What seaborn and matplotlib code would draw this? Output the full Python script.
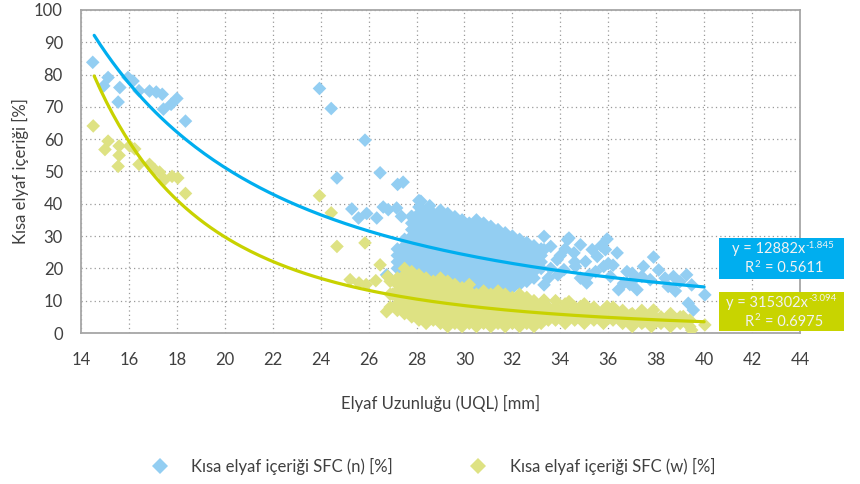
import numpy as np
import pandas as pd
import matplotlib
matplotlib.use("Agg")
import matplotlib.pyplot as plt
from matplotlib.patches import Rectangle
from matplotlib.lines import Line2D
import seaborn as sns

# ---------------- data ----------------
label_n = "Kısa elyaf içeriği SFC (n) [%]"
label_w = "Kısa elyaf içeriği SFC (w) [%]"

# SFC (n) – sparse points
n_sparse_x = [14.49, 15.13, 14.95, 15.62, 15.55, 15.96, 16.17, 16.42, 16.86, 17.14, 17.39, 17.44, 17.76, 18.0, 18.36,
              23.95, 24.44, 25.85, 24.68, 26.48, 27.21, 27.44, 25.3, 25.58, 25.92, 26.34, 26.61, 26.82, 27.17, 27.37,
              27.79, 28.18, 28.55, 26.75, 27.79,
              33.32, 33.6, 34.36, 34.57, 34.84, 35.05, 35.33, 35.54, 35.95, 35.88, 36.37, 35.81, 36.09, 36.78, 36.43,
              37.2, 37.47, 37.89, 37.06, 37.75, 38.37, 38.72, 39.27, 38.5, 38.99, 39.34, 39.55, 40.03, 33.32, 33.87,
              33.32, 34.63, 34.84, 34.15, 35.47, 36.64, 39.48, 34.3, 33.9, 35.1, 36.0, 37.0,
              33.6, 34.0, 34.6, 35.2, 35.7, 36.2, 36.9, 37.4, 38.1, 38.8, 33.5, 34.2]
n_sparse_y = [83.8, 79.1, 76.5, 76.0, 71.5, 79.1, 78.0, 75.0, 74.9, 74.6, 73.9, 69.3, 70.8, 72.6, 65.6,
              75.7, 69.5, 59.7, 48.0, 49.6, 46.0, 46.7, 38.4, 35.6, 37.0, 35.6, 39.0, 38.2, 38.7, 36.1,
              36.1, 40.8, 39.4, 18.0, 18.0,
              29.9, 26.8, 29.4, 24.8, 27.3, 22.1, 25.8, 23.7, 29.1, 25.8, 24.8, 20.6, 17.5, 19.0, 13.4,
              13.4, 20.6, 23.5, 16.5, 16.5, 17.0, 17.5, 18.0, 14.4, 15.9, 9.2, 7.1, 11.8, 25.8, 22.7,
              14.9, 20.6, 17.0, 19.6, 19.0, 15.4, 14.9, 28.9, 18.0, 15.5, 21.5, 18.5,
              20.0, 24.0, 22.0, 18.0, 27.0, 21.0, 15.0, 17.5, 19.5, 13.0, 17.0, 26.0]

# SFC (n) – dense cluster (read column by column)
n_dense_x = [27.2, 27.2, 27.2, 27.2,
             27.5, 27.5, 27.5, 27.5, 27.5, 27.5,
             27.8, 27.8, 27.8, 27.8, 27.8, 27.8, 27.8, 27.8, 27.8, 27.8,
             28.1, 28.1, 28.1, 28.1, 28.1, 28.1, 28.1, 28.1, 28.1, 28.1, 28.1, 28.1, 28.1,
             28.4, 28.4, 28.4, 28.4, 28.4, 28.4, 28.4, 28.4, 28.4, 28.4, 28.4, 28.4,
             28.7, 28.7, 28.7, 28.7, 28.7, 28.7, 28.7, 28.7, 28.7, 28.7, 28.7,
             29.0, 29.0, 29.0, 29.0, 29.0, 29.0, 29.0, 29.0, 29.0, 29.0, 29.0, 29.0,
             29.3, 29.3, 29.3, 29.3, 29.3, 29.3, 29.3, 29.3, 29.3, 29.3, 29.3, 29.3,
             29.6, 29.6, 29.6, 29.6, 29.6, 29.6, 29.6, 29.6, 29.6, 29.6, 29.6, 29.6,
             29.9, 29.9, 29.9, 29.9, 29.9, 29.9, 29.9, 29.9, 29.9, 29.9, 29.9,
             30.2, 30.2, 30.2, 30.2, 30.2, 30.2, 30.2, 30.2, 30.2, 30.2, 30.2,
             30.5, 30.5, 30.5, 30.5, 30.5, 30.5, 30.5, 30.5, 30.5, 30.5, 30.5, 30.5,
             30.8, 30.8, 30.8, 30.8, 30.8, 30.8, 30.8, 30.8, 30.8, 30.8, 30.8,
             31.1, 31.1, 31.1, 31.1, 31.1, 31.1, 31.1, 31.1, 31.1, 31.1, 31.1,
             31.4, 31.4, 31.4, 31.4, 31.4, 31.4, 31.4, 31.4, 31.4, 31.4, 31.4,
             31.7, 31.7, 31.7, 31.7, 31.7, 31.7, 31.7, 31.7, 31.7, 31.7,
             32.0, 32.0, 32.0, 32.0, 32.0, 32.0, 32.0, 32.0, 32.0,
             32.3, 32.3, 32.3, 32.3, 32.3, 32.3, 32.3, 32.3,
             32.6, 32.6, 32.6, 32.6, 32.6, 32.6, 32.6,
             32.9, 32.9, 32.9, 32.9, 32.9, 32.9,
             33.2, 33.2, 33.2, 33.2]
n_dense_y = [20, 22, 24, 26,
             19, 21, 23, 25, 27, 29,
             18, 20, 22, 24, 26, 28, 30, 32, 34, 36,
             17, 19, 21, 23, 25, 27, 29, 31, 33, 35, 37, 39, 41,
             16, 18, 20, 22, 24, 26, 28, 30, 32, 34, 36, 38,
             17, 19, 21, 23, 25, 27, 29, 31, 33, 35, 37,
             16, 18, 20, 22, 24, 26, 28, 30, 32, 34, 36, 38,
             15, 17, 19, 21, 23, 25, 27, 29, 31, 33, 35, 37,
             14, 16, 18, 20, 22, 24, 26, 28, 30, 32, 34, 36,
             15, 17, 19, 21, 23, 25, 27, 29, 31, 33, 35,
             14, 16, 18, 20, 22, 24, 26, 28, 30, 32, 34,
             13, 15, 17, 19, 21, 23, 25, 27, 29, 31, 33, 35,
             14, 16, 18, 20, 22, 24, 26, 28, 30, 32, 34,
             13, 15, 17, 19, 21, 23, 25, 27, 29, 31, 33,
             12, 14, 16, 18, 20, 22, 24, 26, 28, 30, 32,
             13, 15, 17, 19, 21, 23, 25, 27, 29, 31,
             14, 16, 18, 20, 22, 24, 26, 28, 30,
             15, 17, 19, 21, 23, 25, 27, 29,
             16, 18, 20, 22, 24, 26, 28,
             17, 19, 21, 23, 25, 27,
             20, 22, 24, 26]

# SFC (w) – sparse points
w_sparse_x = [14.51, 15.13, 15.0, 15.59, 15.59, 15.55, 16.03, 16.24, 16.42, 16.86, 17.07, 17.28, 17.49, 17.8, 18.04, 18.36,
              23.95, 24.44, 24.68, 25.85, 25.23, 25.6, 25.9, 26.3, 26.48, 26.75, 26.8, 27.0,
              33.32, 33.87, 34.36, 34.84, 35.12, 35.95, 36.37, 36.92, 37.89, 37.47, 38.3, 38.72, 39.13, 39.48, 40.03,
              34.43, 35.54, 36.64, 38.58, 33.46]
w_sparse_y = [64.1, 59.4, 56.8, 57.9, 55.0, 51.6, 57.9, 57.0, 52.2, 52.2, 50.6, 49.8, 47.5, 48.5, 48.0, 43.2,
              42.5, 37.2, 26.8, 27.9, 16.5, 15.5, 15.0, 16.2, 21.1, 6.6, 17.5, 12.0,
              10.2, 7.1, 9.7, 8.2, 6.1, 8.2, 6.6, 5.6, 7.1, 3.5, 4.0, 4.6, 5.1, 0.9, 2.5,
              5.1, 5.1, 4.0, 2.5, 6.1]

# SFC (w) – dense band (read column by column)
w_dense_x = [26.9, 26.9, 26.9,
             27.2, 27.2, 27.2, 27.2, 27.2, 27.2,
             27.5, 27.5, 27.5, 27.5, 27.5, 27.5, 27.5, 27.5,
             27.8, 27.8, 27.8, 27.8, 27.8, 27.8, 27.8, 27.8,
             28.1, 28.1, 28.1, 28.1, 28.1, 28.1, 28.1, 28.1,
             28.4, 28.4, 28.4, 28.4, 28.4, 28.4, 28.4, 28.4,
             28.7, 28.7, 28.7, 28.7, 28.7, 28.7, 28.7,
             29.0, 29.0, 29.0, 29.0, 29.0, 29.0, 29.0, 29.0,
             29.3, 29.3, 29.3, 29.3, 29.3, 29.3, 29.3, 29.3,
             29.6, 29.6, 29.6, 29.6, 29.6, 29.6, 29.6,
             29.9, 29.9, 29.9, 29.9, 29.9, 29.9, 29.9,
             30.2, 30.2, 30.2, 30.2, 30.2, 30.2, 30.2,
             30.5, 30.5, 30.5, 30.5, 30.5, 30.5,
             30.8, 30.8, 30.8, 30.8, 30.8, 30.8,
             31.1, 31.1, 31.1, 31.1, 31.1, 31.1,
             31.4, 31.4, 31.4, 31.4, 31.4, 31.4,
             31.7, 31.7, 31.7, 31.7, 31.7, 31.7,
             32.0, 32.0, 32.0, 32.0, 32.0,
             32.3, 32.3, 32.3, 32.3, 32.3, 32.3,
             32.6, 32.6, 32.6, 32.6, 32.6,
             32.9, 32.9, 32.9, 32.9, 32.9,
             33.2, 33.2, 33.2, 33.2,
             33.5, 33.5, 33.5,
             33.8, 33.8, 33.8, 33.8,
             34.2, 34.2, 34.2, 34.2,
             34.6, 34.6, 34.6,
             35.0, 35.0, 35.0, 35.0,
             35.4, 35.4, 35.4,
             35.8, 35.8, 35.8,
             36.2, 36.2, 36.2,
             36.6, 36.6, 36.6,
             37.0, 37.0, 37.0,
             37.4, 37.4, 37.4,
             37.8, 37.8, 37.8,
             38.2, 38.2,
             38.6, 38.6, 38.6,
             39.0, 39.0,
             39.4, 39.4]
w_dense_y = [8, 12, 16,
             7, 9, 11, 13, 15, 17,
             6, 8, 10, 12, 14, 16, 18, 20,
             5, 7, 9, 11, 13, 15, 17, 19,
             4, 6, 8, 10, 12, 14, 16, 18,
             3, 5, 7, 9, 11, 13, 15, 17,
             4, 6, 8, 10, 12, 14, 16,
             3, 5, 7, 9, 11, 13, 15, 17,
             2, 4, 6, 8, 10, 12, 14, 16,
             3, 5, 7, 9, 11, 13, 15,
             2, 4, 6, 8, 10, 12, 14,
             3, 5, 7, 9, 11, 13, 15,
             2, 4, 6, 8, 10, 12,
             3, 5, 7, 9, 11, 13,
             2, 4, 6, 8, 10, 12,
             3, 5, 7, 9, 11, 13,
             2, 4, 6, 8, 10, 12,
             3, 5, 7, 9, 11,
             2, 4, 6, 8, 10, 12,
             3, 5, 7, 9, 11,
             2, 4, 6, 8, 10,
             3, 5, 7, 9,
             4, 6, 8,
             4, 6, 8, 10,
             3, 5, 7, 9,
             4, 6, 8,
             3, 5, 7, 9,
             4, 6, 8,
             3, 5, 7,
             4, 6, 8,
             3, 5, 7,
             2, 4, 6,
             3, 5, 7,
             2, 4, 6,
             3, 5,
             2, 4, 6,
             3, 5,
             2, 4]

# power-law trend lines as printed on the chart
fit_n_a, fit_n_b, fit_n_r2 = 12882, -1.845, 0.5611
fit_w_a, fit_w_b, fit_w_r2 = 315302, -3.094, 0.6975
fit_x_min, fit_x_max = 14.55, 40.0

x_ticks = list(range(14, 45, 2))
y_ticks = list(range(0, 101, 10))
x_title = "Elyaf Uzunluğu (UQL) [mm]"
y_title = "Kısa elyaf içeriği [%]"

# ---------------- style ----------------
sns.set_theme(style="white")
plt.rcParams["font.family"] = ["Lato", "DejaVu Sans"]

c_n_mark, c_w_mark = "#93CEF2", "#DEE283"
c_n_line, c_w_line = "#00AEEF", "#C8D200"
c_text = "#404040"
c_frame = "#A6A6A6"
c_box_text = "#F2F2F2"

df = pd.concat([
    pd.DataFrame({"x": n_sparse_x + n_dense_x, "y": n_sparse_y + n_dense_y, "s": label_n}),
    pd.DataFrame({"x": w_sparse_x + w_dense_x, "y": w_sparse_y + w_dense_y, "s": label_w}),
])

fig = plt.figure(figsize=(8.6, 4.84), dpi=100)
ax = fig.add_axes([81 / 860, 1 - 333 / 484, (800 - 81) / 860, (333 - 10) / 484])

sns.scatterplot(data=df, x="x", y="y", hue="s", palette={label_n: c_n_mark, label_w: c_w_mark},
                marker="D", s=48, linewidth=0, alpha=1, ax=ax, legend=False, zorder=3)

xf = np.linspace(fit_x_min, fit_x_max, 200)
sns.lineplot(x=xf, y=fit_n_a * xf ** fit_n_b, color=c_n_line, lw=2.3, ax=ax, zorder=4)
sns.lineplot(x=xf, y=fit_w_a * xf ** fit_w_b, color=c_w_line, lw=2.3, ax=ax, zorder=4)

ax.set_xlim(14, 44)
ax.set_ylim(0, 100)
ax.set_xticks(x_ticks)
ax.set_yticks(y_ticks)
ax.grid(True, color="#9A9A9A", linestyle=(0, (1, 2.5)), linewidth=0.9, zorder=0)
ax.set_axisbelow(True)
for sp in ax.spines.values():
    sp.set_color(c_frame)
    sp.set_linewidth(1.3)
ax.tick_params(axis="both", direction="out", length=4, width=1, color=c_frame,
               labelsize=12, labelcolor=c_text)
ax.tick_params(axis="y", pad=9)
ax.tick_params(axis="x", pad=10)
ax.set_xlabel(x_title, fontsize=12, color=c_text, labelpad=19)
ax.set_ylabel(y_title, fontsize=12, color=c_text, labelpad=4)

FT = fig.transFigure

# equation boxes (drawn inside the axes' artist list so z-order works)
def eq_box(y_top, y_bot, color, a, b, r2, main_right, r_left):
    ax.add_patch(Rectangle((719 / 860, 1 - y_bot / 484), 125 / 860, (y_bot - y_top) / 484,
                           transform=FT, facecolor=color, edgecolor="none", zorder=10, clip_on=False))
    yc = (y_top + y_bot) / 2
    t1 = ax.text(main_right / 860, 1 - (yc - 9) / 484, f"y = {a}x", transform=FT, ha="right", va="center",
                 color=c_box_text, fontsize=10.5, zorder=11, clip_on=False)
    ax.annotate(b, xy=(1.0, 1.0), xycoords=t1, xytext=(0.5, 1), textcoords="offset points",
                ha="left", va="top", color=c_box_text, fontsize=7, zorder=11, annotation_clip=False)
    t2 = ax.text(r_left / 860, 1 - (yc + 10) / 484, "R", transform=FT, ha="left", va="center",
                 color=c_box_text, fontsize=10.5, zorder=11, clip_on=False)
    ax.annotate("2", xy=(1.0, 1.0), xycoords=t2, xytext=(0.5, 1), textcoords="offset points",
                ha="left", va="top", color=c_box_text, fontsize=7, zorder=11, annotation_clip=False)
    ax.annotate(f"= {r2:.4f}", xy=(1.0, 0.5), xycoords=t2, xytext=(7.5, 0), textcoords="offset points",
                ha="left", va="center", color=c_box_text, fontsize=10.5, zorder=11, annotation_clip=False)

eq_box(238, 279, "#00AEEF", fit_n_a, f"{fit_n_b:.3f}", fit_n_r2, 805, 745)
eq_box(292, 331, "#C8D400", fit_w_a, f"{fit_w_b:.3f}", fit_w_r2, 808, 745)

handles = [Line2D([], [], marker="D", linestyle="none", markersize=8.5, color=c_n_mark, markeredgewidth=0),
           Line2D([], [], marker="D", linestyle="none", markersize=8.5, color=c_w_mark, markeredgewidth=0)]
leg = fig.legend(handles, [label_n, label_w], loc="center", bbox_to_anchor=(429 / 860, 1 - 466 / 484),
                 ncol=2, frameon=False, fontsize=12, columnspacing=4.1, handletextpad=0.9)
for t in leg.get_texts():
    t.set_color(c_text)

fig.savefig("out.png", dpi=100)
